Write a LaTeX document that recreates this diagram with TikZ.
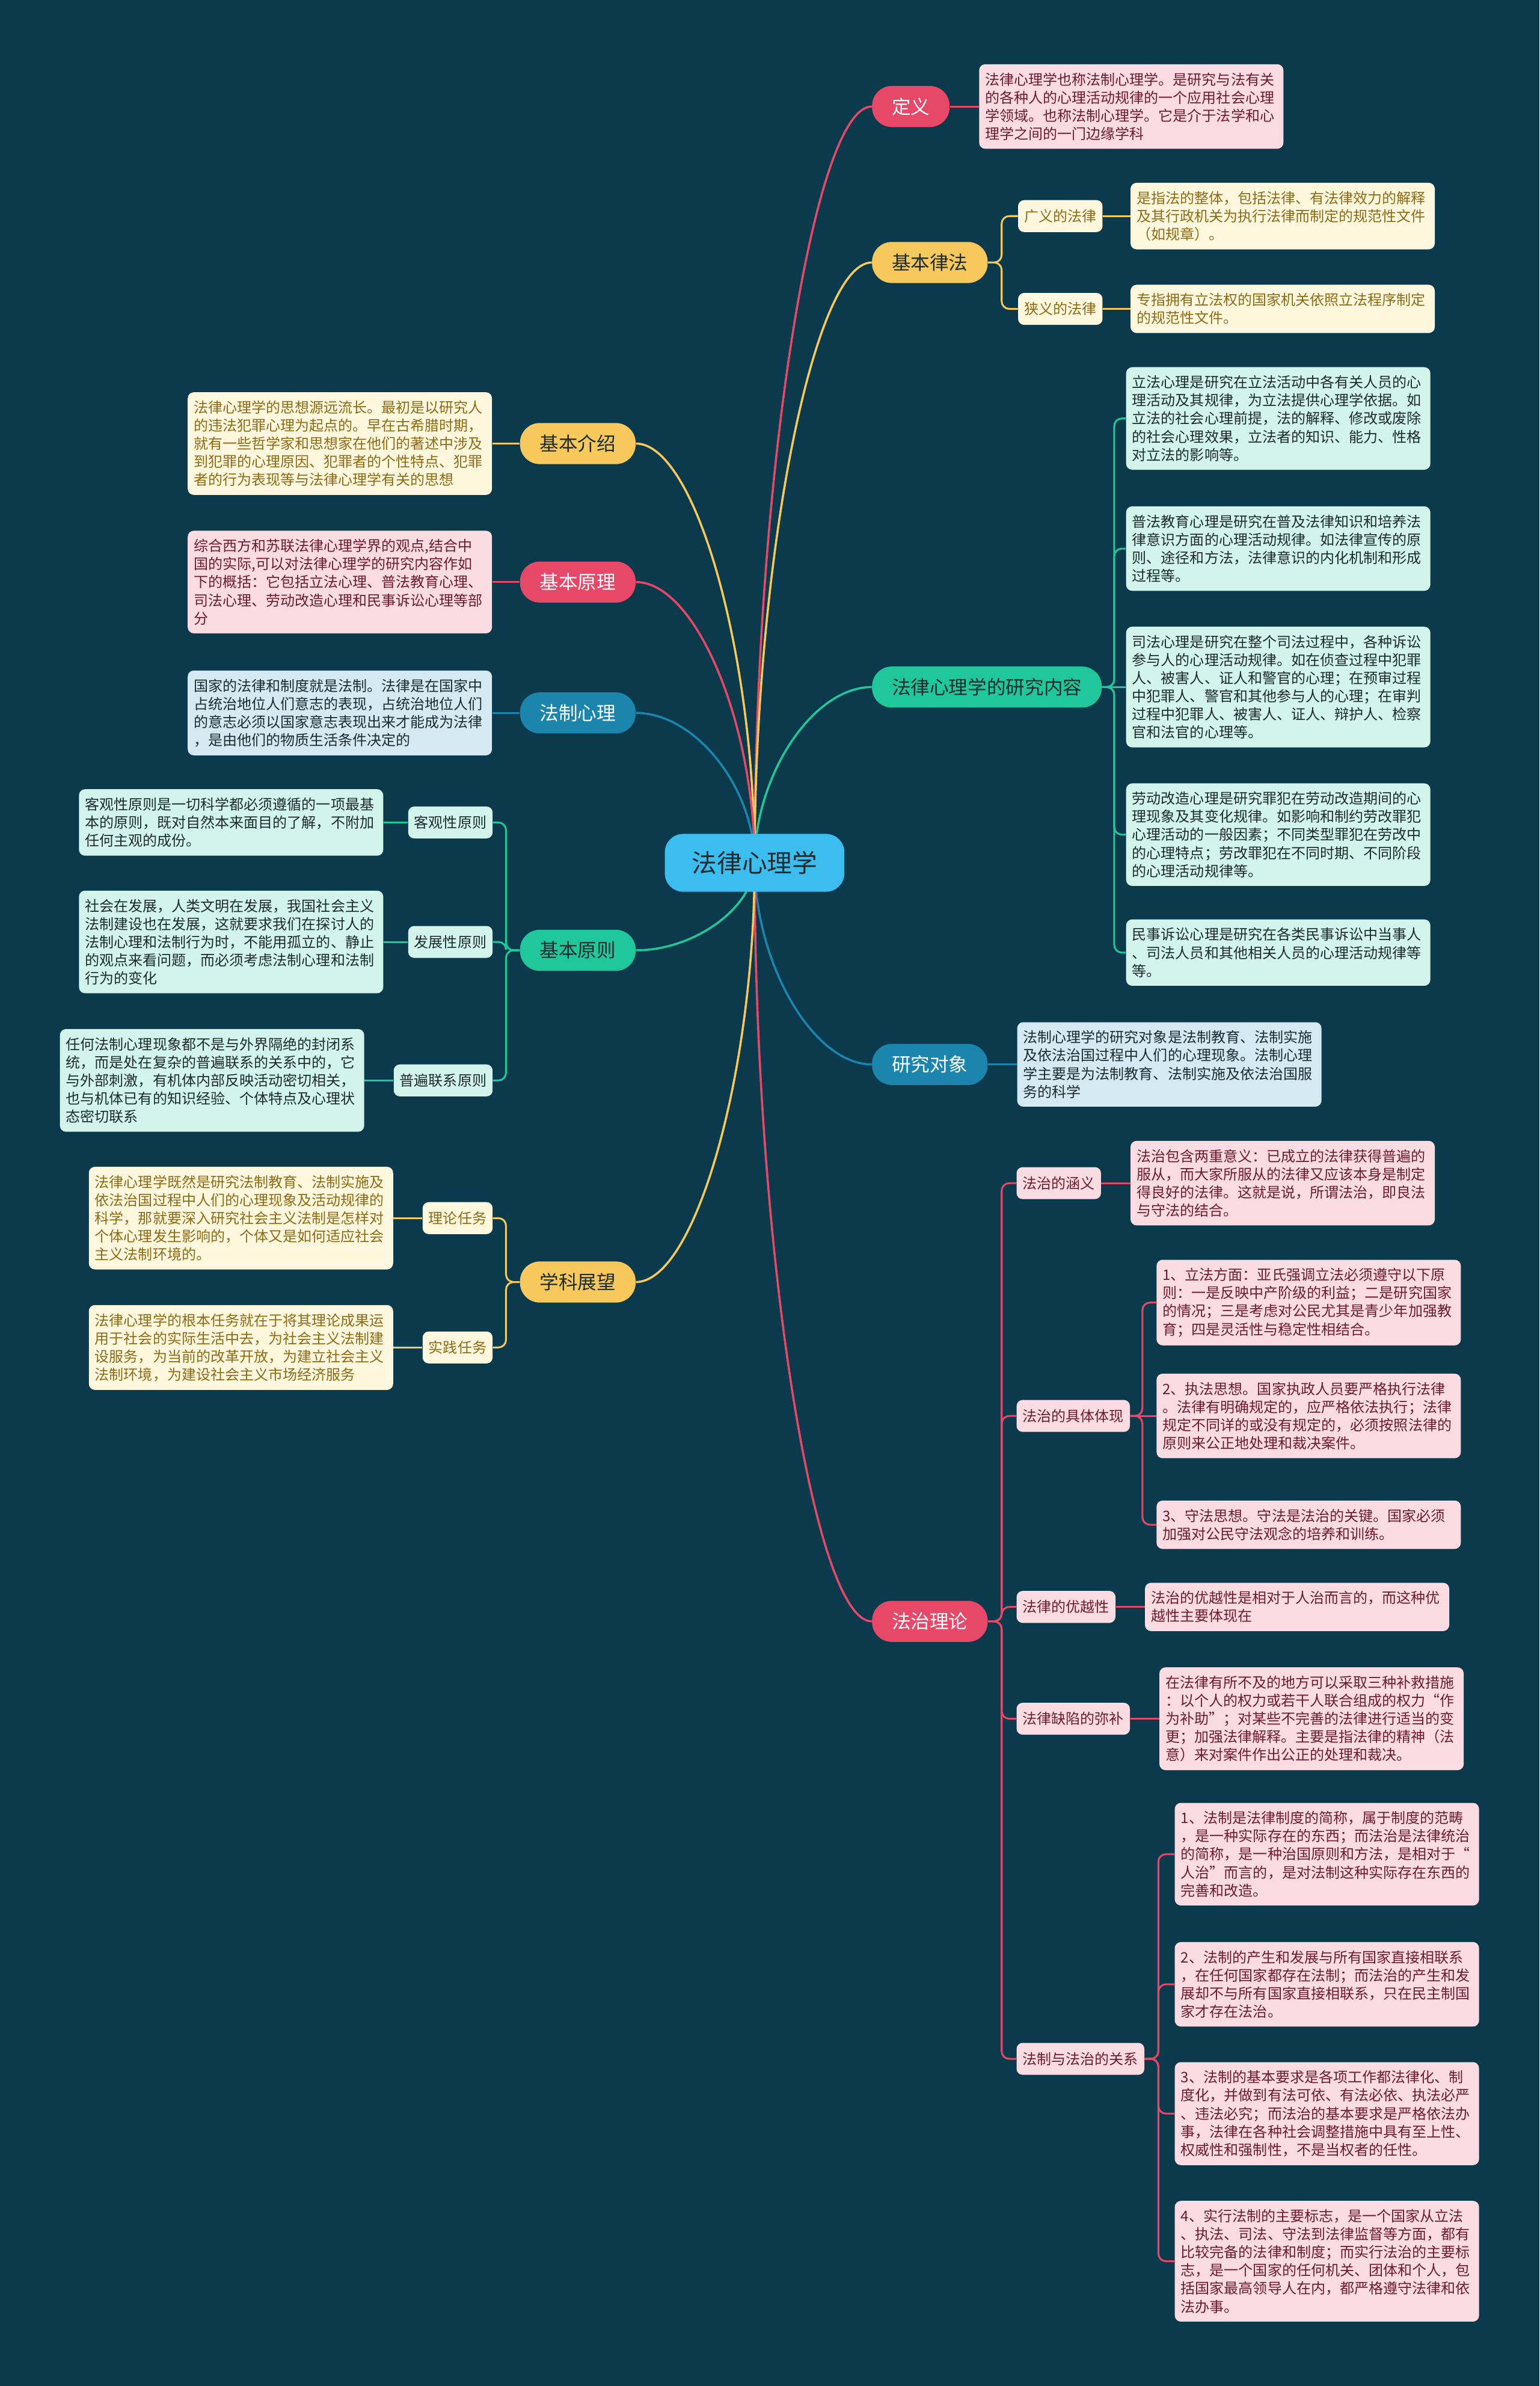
\documentclass[tikz,border=0pt]{standalone}
\usepackage{fontspec}
\setmainfont{Noto Sans CJK SC}
\usepackage{tikz}
\usetikzlibrary{positioning,calc,backgrounds}

\definecolor{bgnavy}{HTML}{0B3A4C}
\definecolor{crim}{HTML}{E84868}
\definecolor{gold}{HTML}{F7C95C}
\definecolor{mint}{HTML}{1FC79A}
\definecolor{sea}{HTML}{1C85AD}
\definecolor{sky}{HTML}{3BBDF0}
\definecolor{pinkbg}{HTML}{FCDCE3}
\definecolor{creambg}{HTML}{FFF7DE}
\definecolor{mintbg}{HTML}{D2F4EA}
\definecolor{bluebg}{HTML}{D4E9F1}
\definecolor{pinktx}{HTML}{6E1B2E}
\definecolor{creamtx}{HTML}{8D6B16}
\definecolor{darktx}{HTML}{1D2B2F}

\tikzstyle{hub} = [rectangle, rounded corners=12pt, fill=sky, text=darktx, minimum width=118pt, minimum height=38pt, font=\fontsize{16.5}{20}\selectfont]
\tikzstyle{topic} = [rectangle, rounded corners=13pt, minimum height=27pt, inner xsep=13pt, inner ysep=0pt, font=\fontsize{12.5}{15}\selectfont]
\tikzstyle{sublbl} = [rectangle, rounded corners=4pt, minimum height=21pt, inner xsep=4pt, inner ysep=0pt, font=\fontsize{9.5}{11.9}\selectfont]
\tikzstyle{leaf} = [rectangle, rounded corners=4pt, text width=192pt, inner xsep=4pt, inner ysep=5.5pt, align=left, font=\fontsize{9.5}{11.9}\selectfont]
\tikzstyle{spoke} = [line width=1.4pt, to path={.. controls ($(\tikztostart)!0.5!(\tikztostart|-\tikztotarget)$) and ($(\tikztotarget)!0.5!(\tikztostart|-\tikztotarget)$) .. (\tikztotarget)}]
\tikzstyle{fork} = [line width=1.2pt, rounded corners=5pt]

\begin{document}
\begin{tikzpicture}[x=1pt, y=-1pt]
  \useasboundingbox (0,0) rectangle (1012,1568);
  \begin{scope}[on background layer]
    \fill[bgnavy] (0,0) rectangle (1012,1568);
  \end{scope}

  % Nodes
  \node [hub] (root) at (496,567) {法律心理学};

  \node [topic, fill=crim, text=white, anchor=west] (def) at (573,70) {定义};
  \node [topic, fill=gold, text=darktx, anchor=west] (law) at (573,172.5) {基本律法};
  \node [topic, fill=mint, text=darktx, anchor=west] (cont) at (573,451.5) {法律心理学的研究内容};
  \node [topic, fill=sea, text=white, anchor=west] (obj) at (573,699.5) {研究对象};
  \node [topic, fill=crim, text=white, anchor=west] (rule) at (573,1065.5) {法治理论};

  \node [topic, fill=gold, text=darktx, anchor=east] (intro) at (418,291.5) {基本介绍};
  \node [topic, fill=crim, text=white, anchor=east] (princ) at (418,382.5) {基本原理};
  \node [topic, fill=sea, text=white, anchor=east] (legal) at (418,468.5) {法制心理};
  \node [topic, fill=mint, text=darktx, anchor=east] (basic) at (418,624.5) {基本原则};
  \node [topic, fill=gold, text=darktx, anchor=east] (prosp) at (418,842.5) {学科展望};

  % Right side
  \node [leaf, fill=pinkbg, text=pinktx, right=19pt of def] (defnote) {法律心理学也称法制心理学。是研究与法有关\\的各种人的心理活动规律的一个应用社会心理\\学领域。也称法制心理学。它是介于法学和心\\理学之间的一门边缘学科};

  \node [sublbl, fill=creambg, text=creamtx, anchor=west] (broad) at (669,142) {广义的法律};
  \node [sublbl, fill=creambg, text=creamtx, anchor=west] (narrow) at (669,203) {狭义的法律};
  \node [leaf, fill=creambg, text=creamtx, right=18pt of broad] (broadnote) {是指法的整体，包括法律、有法律效力的解释\\及其行政机关为执行法律而制定的规范性文件\\（如规章）。};
  \node [leaf, fill=creambg, text=creamtx, right=18pt of narrow] (narrownote) {专指拥有立法权的国家机关依照立法程序制定\\的规范性文件。};

  \node [leaf, fill=mintbg, text=darktx, anchor=west] (cont1) at (740,275) {立法心理是研究在立法活动中各有关人员的心\\理活动及其规律，为立法提供心理学依据。如\\立法的社会心理前提，法的解释、修改或废除\\的社会心理效果，立法者的知识、能力、性格\\对立法的影响等。};
  \node [leaf, fill=mintbg, text=darktx, anchor=west] (cont2) at (740,360.5) {普法教育心理是研究在普及法律知识和培养法\\律意识方面的心理活动规律。如法律宣传的原\\则、途径和方法，法律意识的内化机制和形成\\过程等。};
  \node [leaf, fill=mintbg, text=darktx, anchor=west] (cont3) at (740,451.5) {司法心理是研究在整个司法过程中，各种诉讼\\参与人的心理活动规律。如在侦查过程中犯罪\\人、被害人、证人和警官的心理；在预审过程\\中犯罪人、警官和其他参与人的心理；在审判\\过程中犯罪人、被害人、证人、辩护人、检察\\官和法官的心理等。};
  \node [leaf, fill=mintbg, text=darktx, anchor=west] (cont4) at (740,548.5) {劳动改造心理是研究罪犯在劳动改造期间的心\\理现象及其变化规律。如影响和制约劳改罪犯\\心理活动的一般因素；不同类型罪犯在劳改中\\的心理特点；劳改罪犯在不同时期、不同阶段\\的心理活动规律等。};
  \node [leaf, fill=mintbg, text=darktx, anchor=west] (cont5) at (740,626) {民事诉讼心理是研究在各类民事诉讼中当事人\\、司法人员和其他相关人员的心理活动规律等\\等。};

  \node [leaf, fill=bluebg, text=darktx, right=19pt of obj] (objnote) {法制心理学的研究对象是法制教育、法制实施\\及依法治国过程中人们的心理现象。法制心理\\学主要是为法制教育、法制实施及依法治国服\\务的科学};

  \node [sublbl, fill=pinkbg, text=pinktx, anchor=west] (mean) at (668,777.5) {法治的涵义};
  \node [sublbl, fill=pinkbg, text=pinktx, anchor=west] (embody) at (668,930.5) {法治的具体体现};
  \node [sublbl, fill=pinkbg, text=pinktx, anchor=west] (merit) at (668,1056) {法律的优越性};
  \node [sublbl, fill=pinkbg, text=pinktx, anchor=west] (remedy) at (668,1129.5) {法律缺陷的弥补};
  \node [sublbl, fill=pinkbg, text=pinktx, anchor=west] (relat) at (668,1353) {法制与法治的关系};

  \node [leaf, fill=pinkbg, text=pinktx, right=19pt of mean] (meannote) {法治包含两重意义：已成立的法律获得普遍的\\服从，而大家所服从的法律又应该本身是制定\\得良好的法律。这就是说，所谓法治，即良法\\与守法的结合。};
  \node [leaf, fill=pinkbg, text=pinktx, anchor=west] (emb1) at (760,856) {1、立法方面：亚氏强调立法必须遵守以下原\\则：一是反映中产阶级的利益；二是研究国家\\的情况；三是考虑对公民尤其是青少年加强教\\育；四是灵活性与稳定性相结合。};
  \node [leaf, fill=pinkbg, text=pinktx, anchor=west] (emb2) at (760,930.5) {2、执法思想。国家执政人员要严格执行法律\\。法律有明确规定的，应严格依法执行；法律\\规定不同详的或没有规定的，必须按照法律的\\原则来公正地处理和裁决案件。};
  \node [leaf, fill=pinkbg, text=pinktx, anchor=west] (emb3) at (760,1002) {3、守法思想。守法是法治的关键。国家必须\\加强对公民守法观念的培养和训练。};
  \node [leaf, fill=pinkbg, text=pinktx, right=19pt of merit] (meritnote) {法治的优越性是相对于人治而言的，而这种优\\越性主要体现在};
  \node [leaf, fill=pinkbg, text=pinktx, right=19pt of remedy] (remedynote) {在法律有所不及的地方可以采取三种补救措施\\：以个人的权力或若干人联合组成的权力“作\\为补助”；对某些不完善的法律进行适当的变\\更；加强法律解释。主要是指法律的精神（法\\意）来对案件作出公正的处理和裁决。};
  \node [leaf, fill=pinkbg, text=pinktx, anchor=west] (rel1) at (772,1218.5) {1、法制是法律制度的简称，属于制度的范畴\\，是一种实际存在的东西；而法治是法律统治\\的简称，是一种治国原则和方法，是相对于“\\人治”而言的，是对法制这种实际存在东西的\\完善和改造。};
  \node [leaf, fill=pinkbg, text=pinktx, anchor=west] (rel2) at (772,1304) {2、法制的产生和发展与所有国家直接相联系\\，在任何国家都存在法制；而法治的产生和发\\展却不与所有国家直接相联系，只在民主制国\\家才存在法治。};
  \node [leaf, fill=pinkbg, text=pinktx, anchor=west] (rel3) at (772,1389) {3、法制的基本要求是各项工作都法律化、制\\度化，并做到有法可依、有法必依、执法必严\\、违法必究；而法治的基本要求是严格依法办\\事，法律在各种社会调整措施中具有至上性、\\权威性和强制性，不是当权者的任性。};
  \node [leaf, fill=pinkbg, text=pinktx, anchor=west] (rel4) at (772,1486) {4、实行法制的主要标志，是一个国家从立法\\、执法、司法、守法到法律监督等方面，都有\\比较完备的法律和制度；而实行法治的主要标\\志，是一个国家的任何机关、团体和个人，包\\括国家最高领导人在内，都严格遵守法律和依\\法办事。};

  % Left side
  \node [leaf, fill=creambg, text=creamtx, left=18pt of intro] (intronote) {法律心理学的思想源远流长。最初是以研究人\\的违法犯罪心理为起点的。早在古希腊时期，\\就有一些哲学家和思想家在他们的著述中涉及\\到犯罪的心理原因、犯罪者的个性特点、犯罪\\者的行为表现等与法律心理学有关的思想};
  \node [leaf, fill=pinkbg, text=pinktx, left=18pt of princ] (princnote) {综合西方和苏联法律心理学界的观点,结合中\\国的实际,可以对法律心理学的研究内容作如\\下的概括：它包括立法心理、普法教育心理、\\司法心理、劳动改造心理和民事诉讼心理等部\\分};
  \node [leaf, fill=bluebg, text=darktx, left=18pt of legal] (legalnote) {国家的法律和制度就是法制。法律是在国家中\\占统治地位人们意志的表现，占统治地位人们\\的意志必须以国家意志表现出来才能成为法律\\，是由他们的物质生活条件决定的};

  \node [sublbl, fill=mintbg, text=darktx, anchor=east] (objv) at (324,540.5) {客观性原则};
  \node [sublbl, fill=mintbg, text=darktx, anchor=east] (devp) at (324,619) {发展性原则};
  \node [sublbl, fill=mintbg, text=darktx, anchor=east] (univ) at (324,710) {普遍联系原则};
  \node [leaf, fill=mintbg, text=darktx, left=16pt of objv] (objvnote) {客观性原则是一切科学都必须遵循的一项最基\\本的原则，既对自然本来面目的了解，不附加\\任何主观的成份。};
  \node [leaf, fill=mintbg, text=darktx, left=16pt of devp] (devpnote) {社会在发展，人类文明在发展，我国社会主义\\法制建设也在发展，这就要求我们在探讨人的\\法制心理和法制行为时，不能用孤立的、静止\\的观点来看问题，而必须考虑法制心理和法制\\行为的变化};
  \node [leaf, fill=mintbg, text=darktx, left=19pt of univ] (univnote) {任何法制心理现象都不是与外界隔绝的封闭系\\统，而是处在复杂的普遍联系的关系中的，它\\与外部刺激，有机体内部反映活动密切相关，\\也与机体已有的知识经验、个体特点及心理状\\态密切联系};

  \node [sublbl, fill=creambg, text=creamtx, anchor=east] (theo) at (324,800.5) {理论任务};
  \node [sublbl, fill=creambg, text=creamtx, anchor=east] (prac) at (324,885.5) {实践任务};
  \node [leaf, fill=creambg, text=creamtx, left=19pt of theo] (theonote) {法律心理学既然是研究法制教育、法制实施及\\依法治国过程中人们的心理现象及活动规律的\\科学，那就要深入研究社会主义法制是怎样对\\个体心理发生影响的，个体又是如何适应社会\\主义法制环境的。};
  \node [leaf, fill=creambg, text=creamtx, left=19pt of prac] (pracnote) {法律心理学的根本任务就在于将其理论成果运\\用于社会的实际生活中去，为社会主义法制建\\设服务，为当前的改革开放，为建立社会主义\\法制环境，为建设社会主义市场经济服务};

  % Path
  \begin{scope}[on background layer]
    \draw [spoke, crim] (root.center) to (def.west);
    \draw [spoke, gold] (root.center) to (law.west);
    \draw [spoke, mint] (root.center) to (cont.west);
    \draw [spoke, sea] (root.center) to (obj.west);
    \draw [spoke, crim] (root.center) to (rule.west);
    \draw [spoke, gold] (root.center) to (intro.east);
    \draw [spoke, crim] (root.center) to (princ.east);
    \draw [spoke, sea] (root.center) to (legal.east);
    \draw [spoke, mint] (root.center) to (basic.east);
    \draw [spoke, gold] (root.center) to (prosp.east);

    \draw [fork, crim] (def.east) -- (defnote.west);
    \draw [fork, gold] (law.east) -- ++(9,0) |- (broad.west);
    \draw [fork, gold] (law.east) -- ++(9,0) |- (narrow.west);
    \draw [fork, gold] (broad.east) -- (broadnote.west);
    \draw [fork, gold] (narrow.east) -- (narrownote.west);

    \draw [fork, mint] (cont.east) -- ++(8,0) |- (cont1.west);
    \draw [fork, mint] (cont.east) -- ++(8,0) |- (cont2.west);
    \draw [fork, mint] (cont.east) -- (cont3.west);
    \draw [fork, mint] (cont.east) -- ++(8,0) |- (cont4.west);
    \draw [fork, mint] (cont.east) -- ++(8,0) |- (cont5.west);

    \draw [fork, sea] (obj.east) -- (objnote.west);

    \draw [fork, crim] (rule.east) -- ++(9,0) |- (mean.west);
    \draw [fork, crim] (rule.east) -- ++(9,0) |- (embody.west);
    \draw [fork, crim] (rule.east) -- ++(9,0) |- (merit.west);
    \draw [fork, crim] (rule.east) -- ++(9,0) |- (remedy.west);
    \draw [fork, crim] (rule.east) -- ++(9,0) |- (relat.west);
    \draw [fork, crim] (mean.east) -- (meannote.west);
    \draw [fork, crim] (embody.east) -- ++(8,0) |- (emb1.west);
    \draw [fork, crim] (embody.east) -- (emb2.west);
    \draw [fork, crim] (embody.east) -- ++(8,0) |- (emb3.west);
    \draw [fork, crim] (merit.east) -- (meritnote.west);
    \draw [fork, crim] (remedy.east) -- (remedynote.west);
    \draw [fork, crim] (relat.east) -- ++(9,0) |- (rel1.west);
    \draw [fork, crim] (relat.east) -- ++(9,0) |- (rel2.west);
    \draw [fork, crim] (relat.east) -- ++(9,0) |- (rel3.west);
    \draw [fork, crim] (relat.east) -- ++(9,0) |- (rel4.west);

    \draw [fork, gold] (intro.west) -- (intronote.east);
    \draw [fork, crim] (princ.west) -- (princnote.east);
    \draw [fork, sea] (legal.west) -- (legalnote.east);

    \draw [fork, mint] (basic.west) -- ++(-9,0) |- (objv.east);
    \draw [fork, mint] (basic.west) -- ++(-9,0) |- (devp.east);
    \draw [fork, mint] (basic.west) -- ++(-9,0) |- (univ.east);
    \draw [fork, mint] (objv.west) -- (objvnote.east);
    \draw [fork, mint] (devp.west) -- (devpnote.east);
    \draw [fork, mint] (univ.west) -- (univnote.east);

    \draw [fork, gold] (prosp.west) -- ++(-9,0) |- (theo.east);
    \draw [fork, gold] (prosp.west) -- ++(-9,0) |- (prac.east);
    \draw [fork, gold] (theo.west) -- (theonote.east);
    \draw [fork, gold] (prac.west) -- (pracnote.east);
  \end{scope}
\end{tikzpicture}
\end{document}
